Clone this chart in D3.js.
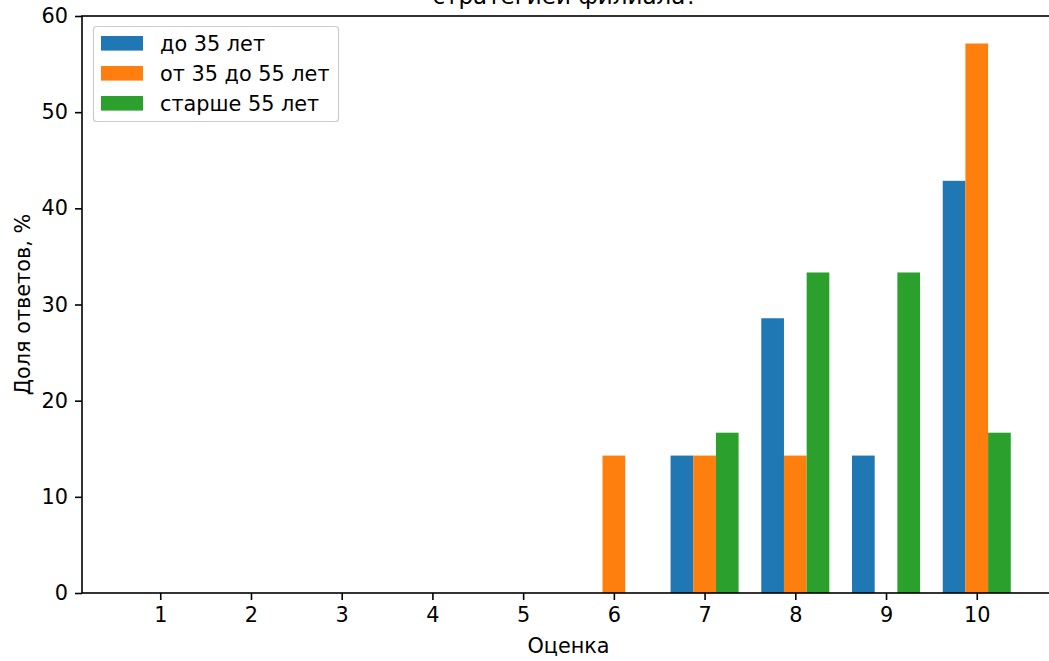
<!DOCTYPE html>
<html><head><meta charset="utf-8">
<script src="https://cdn.jsdelivr.net/npm/d3@7"></script>
<style>body{margin:0;background:#fff;} svg{display:block;font-family:"DejaVu Sans",sans-serif;}</style>
</head><body>
<svg id="c" width="1049" height="661"></svg>
<script>
const categories = [1,2,3,4,5,6,7,8,9,10];
const seriesNames = ["до 35 лет","от 35 до 55 лет","старше 55 лет"];
const under35 = [0,0,0,0,0,0,14.29,28.57,14.29,42.86];
const from35to55 = [0,0,0,0,0,14.29,14.29,14.29,0,57.14];
const over55 = [0,0,0,0,0,0,16.67,33.33,33.33,16.67];
const yTicks = [0,10,20,30,40,50,60];
const colors = ["#1f77b4","#ff7f0e","#2ca02c"];
const titleText = "стратегией филиала?";
const xLabel = "Оценка";
const yLabel = "Доля ответов, %";

const FS = 20.8;
const series = [under35, from35to55, over55];
const svg = d3.select("#c");
const L = 82, R = 1055, T = 16, B = 593;
const barW = 0.25;
const x = d3.scaleLinear().domain([0.1375, 10.8625]).range([L, R]);
const y = d3.scaleLinear().domain([0, 60]).range([B, T]);

// bars
series.forEach((s, i) => {
  svg.append("g").selectAll("rect").data(s).join("rect")
    .attr("x", (d, j) => x(categories[j] + (i - 1) * barW - barW / 2))
    .attr("width", x(1 + barW) - x(1))
    .attr("y", d => y(d))
    .attr("height", d => y(0) - y(d))
    .attr("fill", colors[i]);
});

// axes
const xAxis = d3.axisBottom(x).tickValues(categories).tickSize(7).tickPadding(7).tickFormat(d3.format("d"));
const gx = svg.append("g").attr("transform", `translate(0,${B})`).call(xAxis);
const yAxis = d3.axisLeft(y).tickValues(yTicks).tickSize(7).tickPadding(7).tickFormat(d3.format("d"));
const gy = svg.append("g").attr("transform", `translate(${L},0)`).call(yAxis);
[gx, gy].forEach(g => {
  g.select(".domain").remove();
  g.selectAll("text").attr("font-size", FS).attr("fill", "#000").attr("font-family", "DejaVu Sans");
  g.selectAll("line").attr("stroke", "#000").attr("stroke-width", 1.6);
});
// spines
svg.append("rect").attr("x", L).attr("y", T).attr("width", R - L).attr("height", B - T)
  .attr("fill", "none").attr("stroke", "#000").attr("stroke-width", 1.6);

// labels
svg.append("text").attr("x", (L + R) / 2).attr("y", 653).attr("text-anchor", "middle")
  .attr("font-size", FS).text(xLabel);
svg.append("text").attr("transform", `translate(30,${(T + B) / 2}) rotate(-90)`).attr("text-anchor", "middle")
  .attr("font-size", FS).text(yLabel);
svg.append("text").attr("x", 565).attr("y", 4).attr("text-anchor", "middle")
  .attr("font-size", 23).text(titleText);

// legend
const lg = svg.append("g");
lg.append("rect").attr("x", 93.5).attr("y", 26.5).attr("width", 245).attr("height", 95).attr("rx", 3)
  .attr("fill", "#fff").attr("fill-opacity", 0.8).attr("stroke", "#ccc").attr("stroke-width", 1.2);
seriesNames.forEach((n, i) => {
  const cy = 43 + i * 30;
  lg.append("rect").attr("x", 101).attr("y", cy - 7).attr("width", 42).attr("height", 14.6).attr("fill", colors[i]);
  lg.append("text").attr("x", 160).attr("y", cy + 7.5).attr("font-size", FS).text(n);
});
</script>
</body></html>
